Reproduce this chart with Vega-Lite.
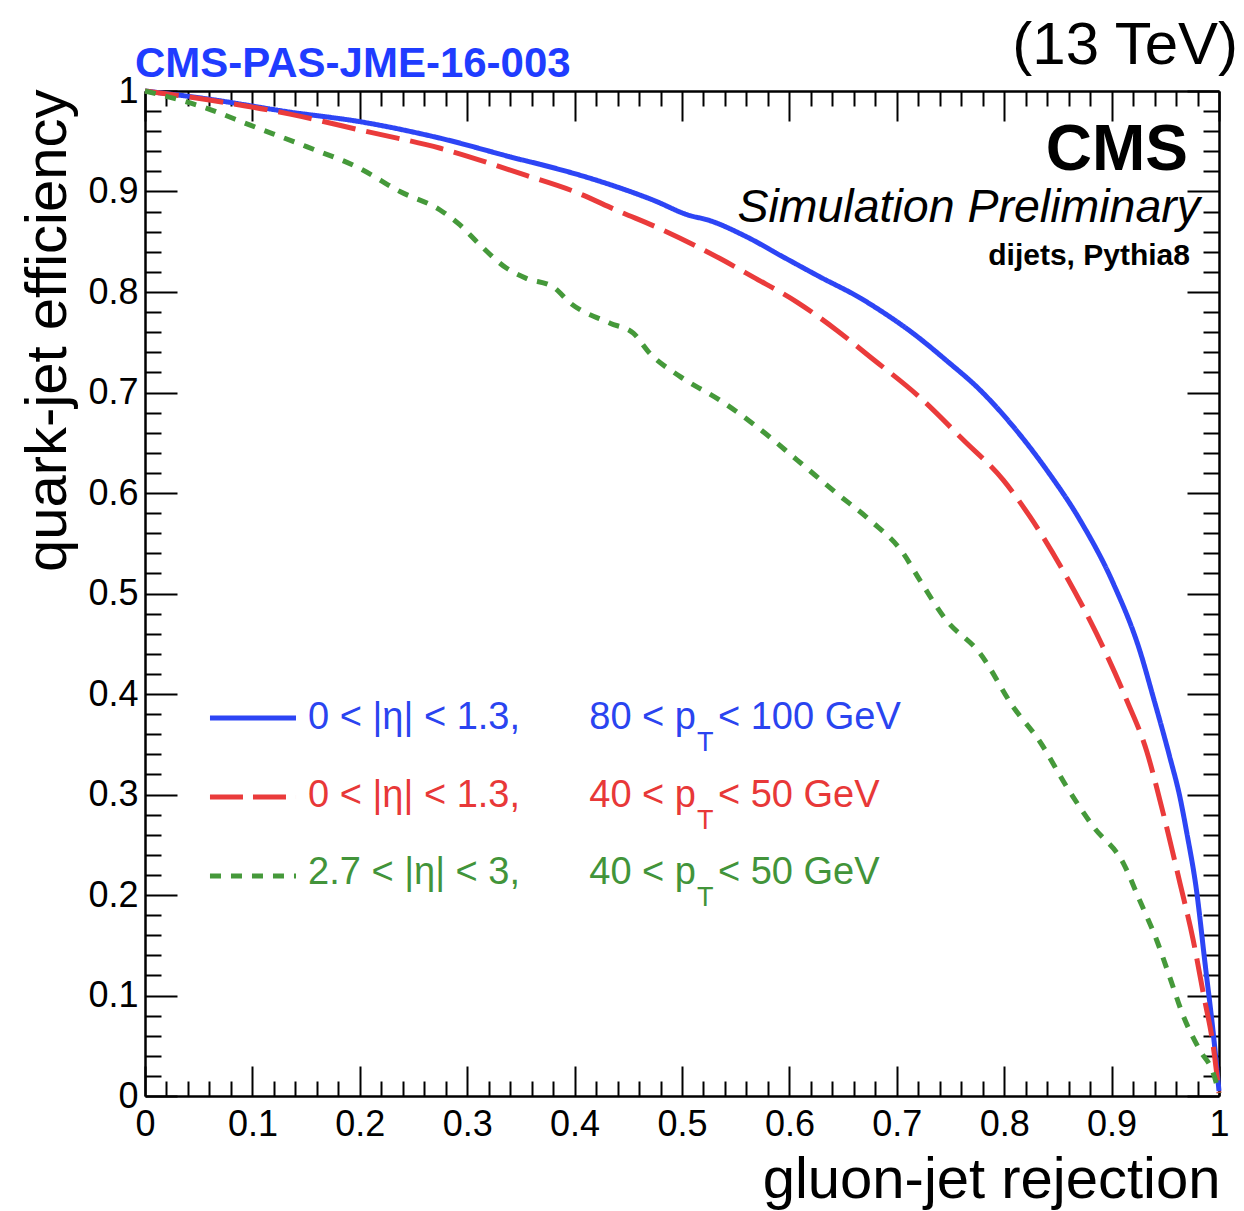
{
"$schema": "https://vega.github.io/schema/vega-lite/v6.json",
"width": 1074,
"height": 1005,
"autosize": {"type": "none"},
"padding": {"left": 145, "top": 91, "right": 25, "bottom": 115},
"background": "white",
"config": {
  "view": {"stroke": null},
  "axis": {"domainColor": "black", "domainWidth": 2.5, "tickColor": "black", "tickWidth": 2, "labelFont": "Liberation Sans", "labelFontSize": 36, "labelColor": "black", "titleFont": "Liberation Sans", "titleFontSize": 58, "titleFontWeight": "normal", "titleColor": "black", "grid": false, "labelFlush": false, "labelOverlap": false, "labelBound": false}
},
"datasets": {
  "curves": [
    {"series":"b","rejection":0,"efficiency":1},{"series":"b","rejection":0.057,"efficiency":0.9923},{"series":"b","rejection":0.135,"efficiency":0.979},{"series":"b","rejection":0.2,"efficiency":0.9695},{"series":"b","rejection":0.275,"efficiency":0.953},{"series":"b","rejection":0.349,"efficiency":0.932},{"series":"b","rejection":0.368,"efficiency":0.927},{"series":"b","rejection":0.421,"efficiency":0.911},{"series":"b","rejection":0.473,"efficiency":0.8915},{"series":"b","rejection":0.5075,"efficiency":0.876},{"series":"b","rejection":0.523,"efficiency":0.872},{"series":"b","rejection":0.56,"efficiency":0.855},{"series":"b","rejection":0.594,"efficiency":0.835},{"series":"b","rejection":0.6285,"efficiency":0.815},{"series":"b","rejection":0.666,"efficiency":0.794},{"series":"b","rejection":0.684,"efficiency":0.782},{"series":"b","rejection":0.715,"efficiency":0.759},{"series":"b","rejection":0.746,"efficiency":0.732},{"series":"b","rejection":0.7775,"efficiency":0.7025},{"series":"b","rejection":0.8085,"efficiency":0.666},{"series":"b","rejection":0.8395,"efficiency":0.623},{"series":"b","rejection":0.8706,"efficiency":0.573},{"series":"b","rejection":0.9016,"efficiency":0.51},{"series":"b","rejection":0.926,"efficiency":0.444},{"series":"b","rejection":0.939,"efficiency":0.396},{"series":"b","rejection":0.954,"efficiency":0.338},{"series":"b","rejection":0.9637,"efficiency":0.297},{"series":"b","rejection":0.97,"efficiency":0.262},{"series":"b","rejection":0.979,"efficiency":0.205},{"series":"b","rejection":0.987,"efficiency":0.132},{"series":"b","rejection":0.9947,"efficiency":0.062},{"series":"b","rejection":1,"efficiency":0.005},
    {"series":"r","rejection":0,"efficiency":1},{"series":"r","rejection":0.057,"efficiency":0.9915},{"series":"r","rejection":0.135,"efficiency":0.977},{"series":"r","rejection":0.2,"efficiency":0.9612},{"series":"r","rejection":0.275,"efficiency":0.943},{"series":"r","rejection":0.355,"efficiency":0.916},{"series":"r","rejection":0.396,"efficiency":0.9015},{"series":"r","rejection":0.442,"efficiency":0.88},{"series":"r","rejection":0.4795,"efficiency":0.863},{"series":"r","rejection":0.535,"efficiency":0.8335},{"series":"r","rejection":0.566,"efficiency":0.815},{"series":"r","rejection":0.607,"efficiency":0.79},{"series":"r","rejection":0.644,"efficiency":0.762},{"series":"r","rejection":0.675,"efficiency":0.7356},{"series":"r","rejection":0.7216,"efficiency":0.695},{"series":"r","rejection":0.762,"efficiency":0.6527},{"series":"r","rejection":0.799,"efficiency":0.613},{"series":"r","rejection":0.824,"efficiency":0.5764},{"series":"r","rejection":0.858,"efficiency":0.5167},{"series":"r","rejection":0.886,"efficiency":0.46},{"series":"r","rejection":0.914,"efficiency":0.394},{"series":"r","rejection":0.9327,"efficiency":0.343},{"series":"r","rejection":0.946,"efficiency":0.29},{"series":"r","rejection":0.9637,"efficiency":0.2116},{"series":"r","rejection":0.976,"efficiency":0.155},{"series":"r","rejection":0.9854,"efficiency":0.102},{"series":"r","rejection":0.9947,"efficiency":0.049},{"series":"r","rejection":1,"efficiency":0.003},
    {"series":"g","rejection":0,"efficiency":1},{"series":"g","rejection":0.057,"efficiency":0.983},{"series":"g","rejection":0.098,"efficiency":0.966},{"series":"g","rejection":0.1505,"efficiency":0.9446},{"series":"g","rejection":0.2,"efficiency":0.923},{"series":"g","rejection":0.2374,"efficiency":0.9},{"series":"g","rejection":0.2747,"efficiency":0.8816},{"series":"g","rejection":0.2933,"efficiency":0.8667},{"series":"g","rejection":0.312,"efficiency":0.8468},{"series":"g","rejection":0.3368,"efficiency":0.8236},{"series":"g","rejection":0.355,"efficiency":0.8136},{"series":"g","rejection":0.38,"efficiency":0.805},{"series":"g","rejection":0.396,"efficiency":0.789},{"series":"g","rejection":0.433,"efficiency":0.769},{"series":"g","rejection":0.4547,"efficiency":0.759},{"series":"g","rejection":0.47,"efficiency":0.739},{"series":"g","rejection":0.498,"efficiency":0.716},{"series":"g","rejection":0.535,"efficiency":0.6925},{"series":"g","rejection":0.566,"efficiency":0.669},{"series":"g","rejection":0.607,"efficiency":0.633},{"series":"g","rejection":0.644,"efficiency":0.5997},{"series":"g","rejection":0.675,"efficiency":0.573},{"series":"g","rejection":0.706,"efficiency":0.54},{"series":"g","rejection":0.7216,"efficiency":0.513},{"series":"g","rejection":0.746,"efficiency":0.4736},{"series":"g","rejection":0.7775,"efficiency":0.4405},{"series":"g","rejection":0.8085,"efficiency":0.387},{"series":"g","rejection":0.833,"efficiency":0.353},{"series":"g","rejection":0.858,"efficiency":0.308},{"series":"g","rejection":0.883,"efficiency":0.268},{"series":"g","rejection":0.911,"efficiency":0.2315},{"series":"g","rejection":0.926,"efficiency":0.195},{"series":"g","rejection":0.942,"efficiency":0.155},{"series":"g","rejection":0.954,"efficiency":0.1187},{"series":"g","rejection":0.967,"efficiency":0.079},{"series":"g","rejection":0.982,"efficiency":0.0458},{"series":"g","rejection":0.9947,"efficiency":0.0226},{"series":"g","rejection":1,"efficiency":0.003}
  ]
},
"resolve": {"axis": {"x": "independent", "y": "independent"}},
"layer": [
  {
    "data": {"name": "curves"},
    "mark": {"type": "line", "strokeWidth": 5, "strokeCap": "butt", "strokeJoin": "round", "interpolate": "monotone"},
    "encoding": {
      "x": {"field": "rejection", "type": "quantitative", "scale": {"domain": [0, 1], "nice": false, "zero": false},
        "axis": {"orient": "bottom", "values": [0,0.02,0.04,0.06,0.08,0.1,0.12,0.14,0.16,0.18,0.2,0.22,0.24,0.26,0.28,0.3,0.32,0.34,0.36,0.38,0.4,0.42,0.44,0.46,0.48,0.5,0.52,0.54,0.56,0.58,0.6,0.62,0.64,0.66,0.68,0.7,0.72,0.74,0.76,0.78,0.8,0.82,0.84,0.86,0.88,0.9,0.92,0.94,0.96,0.98,1],
          "tickSize": {"condition": {"test": "abs(datum.value*10-round(datum.value*10))<0.001", "value": -30}, "value": -15},
          "labelPadding": 41, "labelBaseline": "top",
          "labelExpr": "abs(datum.value*10-round(datum.value*10))<0.001 ? format(datum.value, '~g') : ''",
          "title": "gluon-jet rejection", "titleAnchor": "end", "titleAlign": "right", "titleBaseline": "alphabetic", "titleX": 1075, "titleY": 101}},
      "y": {"field": "efficiency", "type": "quantitative", "scale": {"domain": [0, 1], "nice": false, "zero": false},
        "axis": {"orient": "left", "values": [0,0.02,0.04,0.06,0.08,0.1,0.12,0.14,0.16,0.18,0.2,0.22,0.24,0.26,0.28,0.3,0.32,0.34,0.36,0.38,0.4,0.42,0.44,0.46,0.48,0.5,0.52,0.54,0.56,0.58,0.6,0.62,0.64,0.66,0.68,0.7,0.72,0.74,0.76,0.78,0.8,0.82,0.84,0.86,0.88,0.9,0.92,0.94,0.96,0.98,1],
          "tickSize": {"condition": {"test": "abs(datum.value*10-round(datum.value*10))<0.001", "value": -32}, "value": -16},
          "labelPadding": 39, "labelAlign": "right", "labelBaseline": "middle",
          "labelExpr": "abs(datum.value*10-round(datum.value*10))<0.001 ? format(datum.value, '~g') : ''",
          "title": "quark-jet efficiency", "titleAngle": -90, "titleAnchor": "end", "titleAlign": "right", "titleBaseline": "alphabetic", "titleX": -80, "titleY": -2}},
      "color": {"field": "series", "type": "nominal", "scale": {"domain": ["b", "r", "g"], "range": ["#2d45f5", "#ea3b3b", "#45993a"]}, "legend": null},
      "strokeDash": {"field": "series", "type": "nominal", "scale": {"domain": ["b", "r", "g"], "range": [[1, 0], [34, 11], [11, 10]]}, "legend": null}
    }
  },
  {
    "data": {"name": "curves"},
    "mark": {"type": "point", "opacity": 0},
    "encoding": {
      "x": {"field": "rejection", "type": "quantitative",
        "axis": {"orient": "top", "values": [0,0.02,0.04,0.06,0.08,0.1,0.12,0.14,0.16,0.18,0.2,0.22,0.24,0.26,0.28,0.3,0.32,0.34,0.36,0.38,0.4,0.42,0.44,0.46,0.48,0.5,0.52,0.54,0.56,0.58,0.6,0.62,0.64,0.66,0.68,0.7,0.72,0.74,0.76,0.78,0.8,0.82,0.84,0.86,0.88,0.9,0.92,0.94,0.96,0.98,1],
          "tickSize": {"condition": {"test": "abs(datum.value*10-round(datum.value*10))<0.001", "value": -30}, "value": -15},
          "labels": false, "title": null}},
      "y": {"field": "efficiency", "type": "quantitative",
        "axis": {"orient": "right", "values": [0,0.02,0.04,0.06,0.08,0.1,0.12,0.14,0.16,0.18,0.2,0.22,0.24,0.26,0.28,0.3,0.32,0.34,0.36,0.38,0.4,0.42,0.44,0.46,0.48,0.5,0.52,0.54,0.56,0.58,0.6,0.62,0.64,0.66,0.68,0.7,0.72,0.74,0.76,0.78,0.8,0.82,0.84,0.86,0.88,0.9,0.92,0.94,0.96,0.98,1],
          "tickSize": {"condition": {"test": "abs(datum.value*10-round(datum.value*10))<0.001", "value": -32}, "value": -16},
          "labels": false, "title": null}}
    }
  },
  {"data": {"values": [{}]}, "mark": {"type": "rule", "color": "#2d45f5", "strokeWidth": 5}, "encoding": {"x": {"datum": 0.0605, "type": "quantitative", "axis": null}, "x2": {"datum": 0.1406}, "y": {"datum": 0.3761, "type": "quantitative", "axis": null}}},
  {"data": {"values": [{}]}, "mark": {"type": "rule", "color": "#ea3b3b", "strokeWidth": 5, "strokeDash": [33, 10]}, "encoding": {"x": {"datum": 0.0605, "type": "quantitative", "axis": null}, "x2": {"datum": 0.1406}, "y": {"datum": 0.2975, "type": "quantitative", "axis": null}}},
  {"data": {"values": [{}]}, "mark": {"type": "rule", "color": "#45993a", "strokeWidth": 5, "strokeDash": [11, 10]}, "encoding": {"x": {"datum": 0.0605, "type": "quantitative", "axis": null}, "x2": {"datum": 0.1406}, "y": {"datum": 0.2189, "type": "quantitative", "axis": null}}},

  {"data": {"values": [{}]}, "mark": {"type": "text", "text": "0 < |η| < 1.3,", "font": "Liberation Sans", "fontSize": 38, "align": "left", "baseline": "alphabetic", "color": "#2a44f0"}, "encoding": {"x": {"datum": 0.1518, "type": "quantitative", "axis": null}, "y": {"datum": 0.3652, "type": "quantitative", "axis": null}}},
  {"data": {"values": [{}]}, "mark": {"type": "text", "text": "80 < p", "font": "Liberation Sans", "fontSize": 38, "align": "right", "baseline": "alphabetic", "color": "#2a44f0"}, "encoding": {"x": {"datum": 0.513, "type": "quantitative", "axis": null}, "y": {"datum": 0.3652, "type": "quantitative", "axis": null}}},
  {"data": {"values": [{}]}, "mark": {"type": "text", "text": "T", "font": "Liberation Sans", "fontSize": 27, "align": "left", "baseline": "alphabetic", "dx": 1, "color": "#2a44f0"}, "encoding": {"x": {"datum": 0.513, "type": "quantitative", "axis": null}, "y": {"datum": 0.3433, "type": "quantitative", "axis": null}}},
  {"data": {"values": [{}]}, "mark": {"type": "text", "text": "< 100 GeV", "font": "Liberation Sans", "fontSize": 38, "align": "left", "baseline": "alphabetic", "color": "#2a44f0"}, "encoding": {"x": {"datum": 0.5335, "type": "quantitative", "axis": null}, "y": {"datum": 0.3652, "type": "quantitative", "axis": null}}},

  {"data": {"values": [{}]}, "mark": {"type": "text", "text": "0 < |η| < 1.3,", "font": "Liberation Sans", "fontSize": 38, "align": "left", "baseline": "alphabetic", "color": "#e83838"}, "encoding": {"x": {"datum": 0.1518, "type": "quantitative", "axis": null}, "y": {"datum": 0.2876, "type": "quantitative", "axis": null}}},
  {"data": {"values": [{}]}, "mark": {"type": "text", "text": "40 < p", "font": "Liberation Sans", "fontSize": 38, "align": "right", "baseline": "alphabetic", "color": "#e83838"}, "encoding": {"x": {"datum": 0.513, "type": "quantitative", "axis": null}, "y": {"datum": 0.2876, "type": "quantitative", "axis": null}}},
  {"data": {"values": [{}]}, "mark": {"type": "text", "text": "T", "font": "Liberation Sans", "fontSize": 27, "align": "left", "baseline": "alphabetic", "dx": 1, "color": "#e83838"}, "encoding": {"x": {"datum": 0.513, "type": "quantitative", "axis": null}, "y": {"datum": 0.2657, "type": "quantitative", "axis": null}}},
  {"data": {"values": [{}]}, "mark": {"type": "text", "text": "< 50 GeV", "font": "Liberation Sans", "fontSize": 38, "align": "left", "baseline": "alphabetic", "color": "#e83838"}, "encoding": {"x": {"datum": 0.5335, "type": "quantitative", "axis": null}, "y": {"datum": 0.2876, "type": "quantitative", "axis": null}}},

  {"data": {"values": [{}]}, "mark": {"type": "text", "text": "2.7 < |η| < 3,", "font": "Liberation Sans", "fontSize": 38, "align": "left", "baseline": "alphabetic", "color": "#42943a"}, "encoding": {"x": {"datum": 0.1518, "type": "quantitative", "axis": null}, "y": {"datum": 0.2109, "type": "quantitative", "axis": null}}},
  {"data": {"values": [{}]}, "mark": {"type": "text", "text": "40 < p", "font": "Liberation Sans", "fontSize": 38, "align": "right", "baseline": "alphabetic", "color": "#42943a"}, "encoding": {"x": {"datum": 0.513, "type": "quantitative", "axis": null}, "y": {"datum": 0.2109, "type": "quantitative", "axis": null}}},
  {"data": {"values": [{}]}, "mark": {"type": "text", "text": "T", "font": "Liberation Sans", "fontSize": 27, "align": "left", "baseline": "alphabetic", "dx": 1, "color": "#42943a"}, "encoding": {"x": {"datum": 0.513, "type": "quantitative", "axis": null}, "y": {"datum": 0.1891, "type": "quantitative", "axis": null}}},
  {"data": {"values": [{}]}, "mark": {"type": "text", "text": "< 50 GeV", "font": "Liberation Sans", "fontSize": 38, "align": "left", "baseline": "alphabetic", "color": "#42943a"}, "encoding": {"x": {"datum": 0.5335, "type": "quantitative", "axis": null}, "y": {"datum": 0.2109, "type": "quantitative", "axis": null}}},

  {"data": {"values": [{}]}, "mark": {"type": "text", "text": "CMS-PAS-JME-16-003", "font": "Liberation Sans", "fontSize": 42, "fontWeight": "bold", "align": "left", "baseline": "alphabetic", "color": "#1f3cff"}, "encoding": {"x": {"datum": -0.0093, "type": "quantitative", "axis": null}, "y": {"datum": 1.0139, "type": "quantitative", "axis": null}}},
  {"data": {"values": [{}]}, "mark": {"type": "text", "text": "(13 TeV)", "font": "Liberation Sans", "fontSize": 60, "align": "right", "baseline": "alphabetic", "color": "black"}, "encoding": {"x": {"datum": 1.0177, "type": "quantitative", "axis": null}, "y": {"datum": 1.0269, "type": "quantitative", "axis": null}}},
  {"data": {"values": [{}]}, "mark": {"type": "text", "text": "CMS", "font": "Liberation Sans", "fontSize": 64, "fontWeight": "bold", "align": "right", "baseline": "alphabetic", "color": "black"}, "encoding": {"x": {"datum": 0.9711, "type": "quantitative", "axis": null}, "y": {"datum": 0.9214, "type": "quantitative", "axis": null}}},
  {"data": {"values": [{}]}, "mark": {"type": "text", "text": "Simulation Preliminary", "font": "Liberation Sans", "fontSize": 46.5, "fontStyle": "italic", "align": "right", "baseline": "alphabetic", "color": "black"}, "encoding": {"x": {"datum": 0.9823, "type": "quantitative", "axis": null}, "y": {"datum": 0.8697, "type": "quantitative", "axis": null}}},
  {"data": {"values": [{}]}, "mark": {"type": "text", "text": "dijets, Pythia8", "font": "Liberation Sans", "fontSize": 30, "fontWeight": "bold", "align": "right", "baseline": "alphabetic", "color": "black"}, "encoding": {"x": {"datum": 0.973, "type": "quantitative", "axis": null}, "y": {"datum": 0.8269, "type": "quantitative", "axis": null}}}
]
}
